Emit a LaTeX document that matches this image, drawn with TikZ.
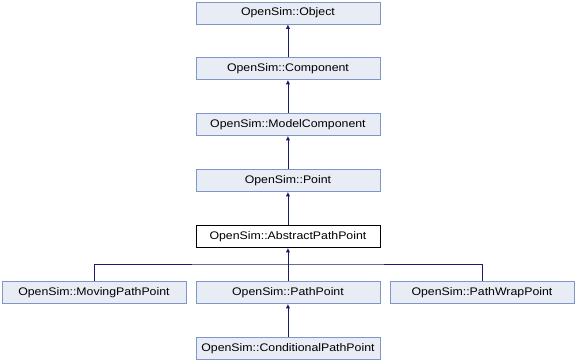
\documentclass[tikz,border=0pt]{standalone}
\usepackage{fontspec}
\setmainfont{Liberation Sans}
\newfontfamily\boxfont[FakeStretch=1.12]{Liberation Sans}
\usetikzlibrary{arrows.meta}
\definecolor{boxfill}{HTML}{E8ECF5}
\definecolor{boxline}{HTML}{7F96CC}
\definecolor{edge}{HTML}{191970}
\begin{document}
\begin{tikzpicture}[x=1pt,y=-1pt,
  cls/.style={draw=boxline,fill=boxfill,line width=0.9pt,minimum width=184pt,minimum height=22pt,inner sep=0pt,font=\boxfont\fontsize{11}{13}\selectfont,anchor=north west},
  cur/.style={cls,draw=black,fill=white},
  inh/.style={draw=edge,line width=0.9pt,-{Latex[length=4.5pt,width=4.5pt]}}]
\useasboundingbox (0,0) rectangle (575,360);
\node[cls] (obj) at (195.5,1.5) {OpenSim::Object};
\node[cls] (comp) at (195.5,57) {OpenSim::Component};
\node[cls] (mc) at (195.5,113) {OpenSim::ModelComponent};
\node[cls] (pt) at (195.5,169) {OpenSim::Point};
\node[cur] (app) at (195.5,225) {OpenSim::AbstractPathPoint};
\node[cls] (mpp) at (1.5,281) {OpenSim::MovingPathPoint};
\node[cls] (pp) at (195.5,281) {OpenSim::PathPoint};
\node[cls] (pwp) at (389.5,281) {OpenSim::PathWrapPoint};
\node[cls] (cpp) at (195.5,337) {OpenSim::ConditionalPathPoint};
\coordinate (bar) at (287.5,264);
\draw[inh] (comp) -- (obj);
\draw[inh] (mc) -- (comp);
\draw[inh] (pt) -- (mc);
\draw[inh] (app) -- (pt);
\draw[inh] (pp) -- (app);
\draw[edge,line width=0.9pt] (mpp.north) |- (bar) -| (pwp.north);
\draw[inh] (cpp) -- (pp);
\end{tikzpicture}
\end{document}
